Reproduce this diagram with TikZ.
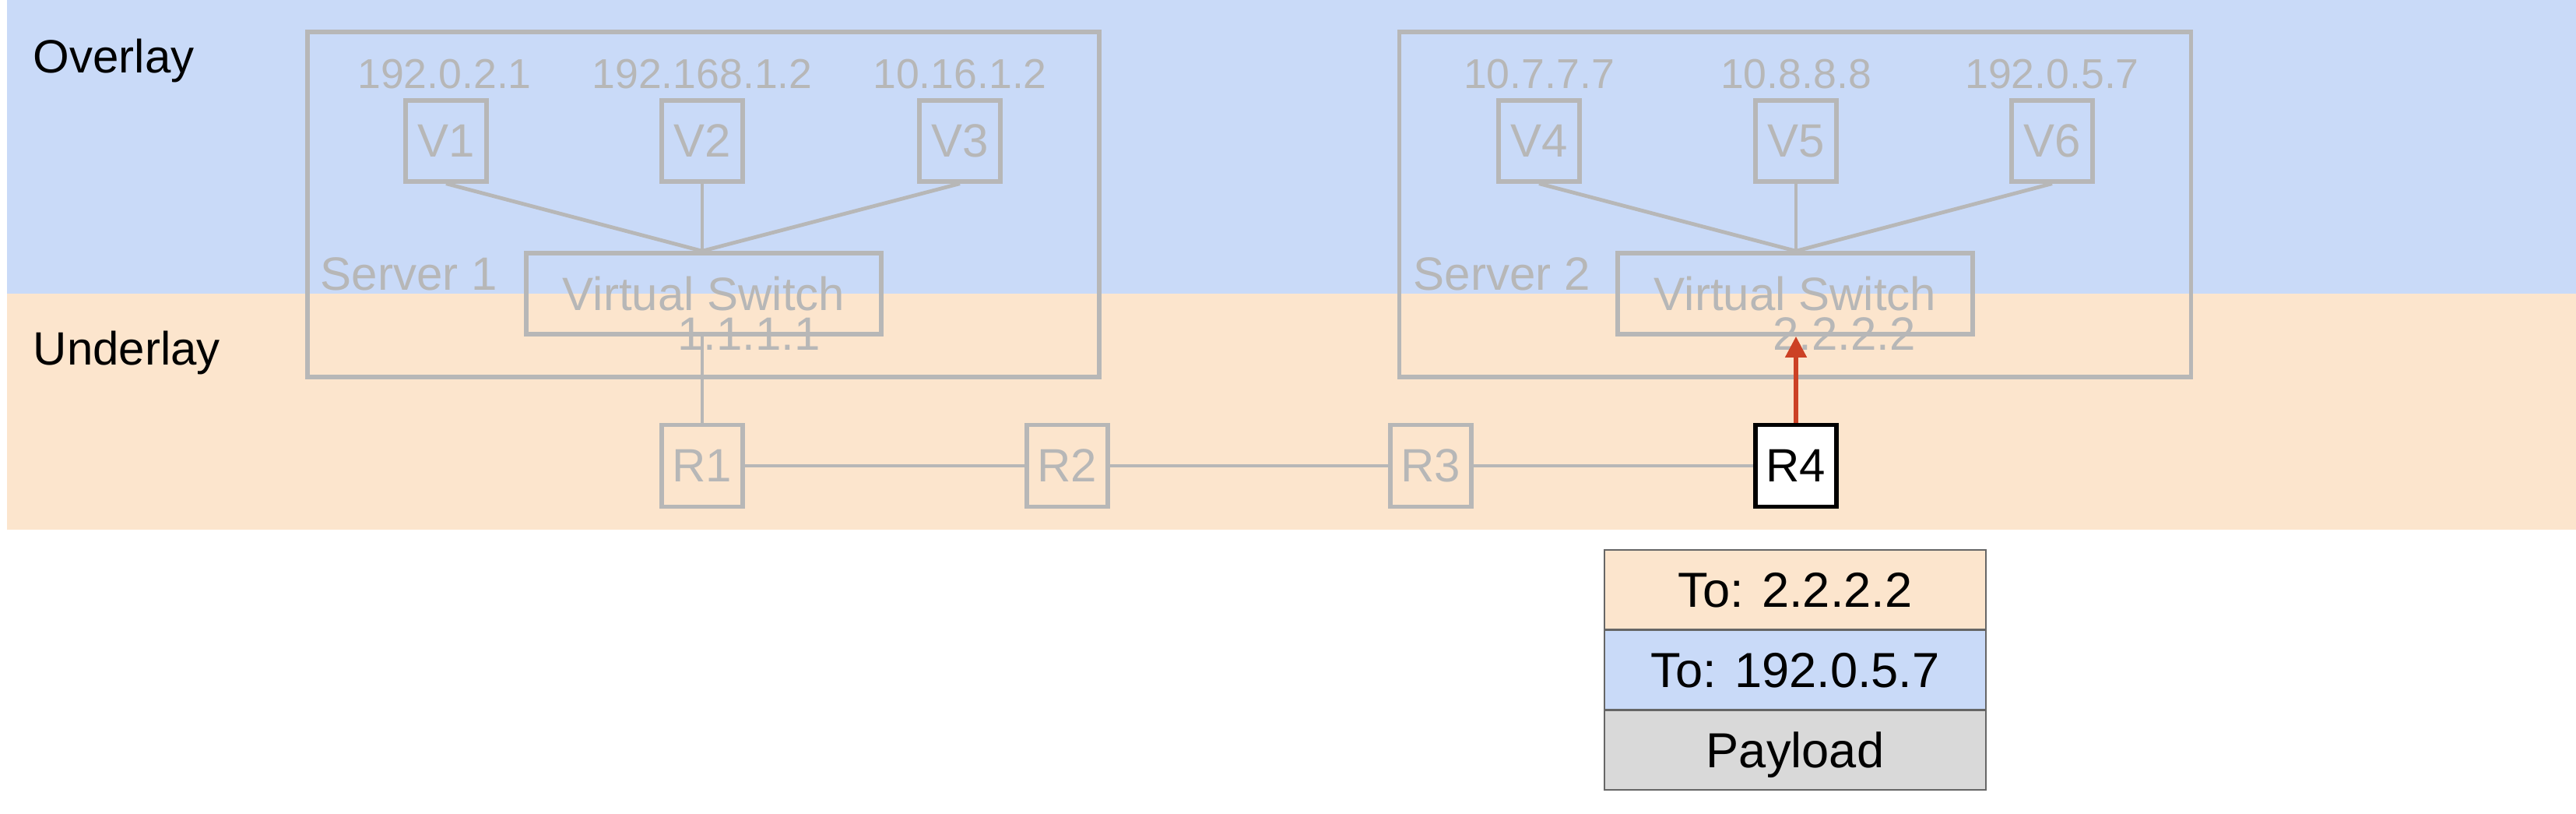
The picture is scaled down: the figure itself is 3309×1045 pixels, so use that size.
\documentclass[tikz,border=0pt]{standalone}
\usepackage{fontspec}
\setmainfont{Liberation Sans}
\usetikzlibrary{arrows.meta}
\definecolor{ovl}{HTML}{C9DAF8}
\definecolor{unl}{HTML}{FCE5CD}
\definecolor{ln}{HTML}{B7B7B7}
\definecolor{pay}{HTML}{D9D9D9}
\definecolor{arr}{HTML}{CC4125}
\definecolor{pk}{HTML}{666666}
\begin{document}
\begin{tikzpicture}[x=0.25pt,y=-0.25pt,
  txt/.style={font=\fontsize{15}{18}\selectfont},
  iptxt/.style={font=\fontsize{13.4}{16}\selectfont, text=ln, inner sep=0pt, anchor=base},
  graybox/.style={draw=ln, line width=1.35pt, inner sep=0pt, text=ln, txt, text depth=0pt},
  vmbox/.style={graybox, minimum width=26pt, minimum height=26pt},
  rbox/.style={graybox, minimum width=26pt, minimum height=26.25pt},
  swbox/.style={graybox, minimum width=114pt, minimum height=26pt},
  srvbox/.style={draw=ln, line width=1.35pt, inner sep=0pt, minimum width=254.3pt, minimum height=110.75pt},
  conn/.style={draw=ln, line width=1.2pt},
  pkrow/.style={draw=pk, line width=0.6pt, minimum width=122.5pt, minimum height=25.6pt, inner sep=0pt, font=\fontsize{15.8}{19}\selectfont, text depth=0pt},
  lbl/.style={txt, inner sep=0pt, anchor=base west}
]
\useasboundingbox (0,0) rectangle (3309,1045);
% bands
\fill[ovl] (9,0) rectangle (3309,377);
\fill[unl] (9,377) rectangle (3309,680);
\node[lbl] (ovlabel) at (42,94) {Overlay};
\node[lbl] (unlabel) at (42,469) {Underlay};

% Server 1
\node[srvbox] (S1) at (903.5,262.5) {};
\node[lbl, text=ln] (S1lab) at (411,373) {Server 1};
\node[vmbox] (V1) at (573,181) {V1};
\node[vmbox] (V2) at (902,181) {V2};
\node[vmbox] (V3) at (1233,181) {V3};
\node[iptxt] (ip1) at (571,114) {192.0.2.1};
\node[iptxt] (ip2) at (902,114) {192.168.1.2};
\node[iptxt] (ip3) at (1233,114) {10.16.1.2};
\node[swbox] (VS1) at (904,377) {Virtual Switch};
\node[iptxt, font=\fontsize{15}{18}\selectfont] (ul1) at (962,450) {1.1.1.1};

% Server 2
\node[srvbox] (S2) at (2306,262.5) {};
\node[lbl, text=ln] (S2lab) at (1815,373) {Server 2};
\node[vmbox] (V4) at (1977,181) {V4};
\node[vmbox] (V5) at (2307,181) {V5};
\node[vmbox] (V6) at (2636,181) {V6};
\node[iptxt] (ip4) at (1977,114) {10.7.7.7};
\node[iptxt] (ip5) at (2307,114) {10.8.8.8};
\node[iptxt] (ip6) at (2636,114) {192.0.5.7};
\node[swbox] (VS2) at (2306,377) {Virtual Switch};
\node[iptxt, font=\fontsize{15}{18}\selectfont] (ul2) at (2369,450) {2.2.2.2};

% routers
\node[rbox] (R1) at (902,598) {R1};
\node[rbox] (R2) at (1371,598) {R2};
\node[rbox] (R3) at (1838,598) {R3};
\node[rbox, draw=black, fill=white, text=black] (R4) at (2307,598) {R4};

% connectors
\draw[conn] (V1.south) -- (VS1.north -| V2.south);
\draw[conn] (V2.south) -- (VS1.north -| V2.south);
\draw[conn] (V3.south) -- (VS1.north -| V2.south);
\draw[conn] (V4.south) -- (VS2.north -| V5.south);
\draw[conn] (V5.south) -- (VS2.north -| V5.south);
\draw[conn] (V6.south) -- (VS2.north -| V5.south);
\draw[conn] (R1.north) -- (R1.north |- VS1.south);
\draw[conn] (R1.east) -- (R2.west);
\draw[conn] (R2.east) -- (R3.west);
\draw[conn] (R3.east) -- (R4.west);
\draw[arr, line width=1.6pt, -{Triangle[length=6.8pt,width=6.6pt]}] (R4.north) -- (R4.north |- VS2.south);

% packet
\node[pkrow, fill=unl] (P1) at (2306,757.5) {To: 2.2.2.2};
\node[pkrow, fill=ovl] (P2) at (2306,860) {To: 192.0.5.7};
\node[pkrow, fill=pay] (P3) at (2306,963) {Payload};
\end{tikzpicture}
\end{document}
